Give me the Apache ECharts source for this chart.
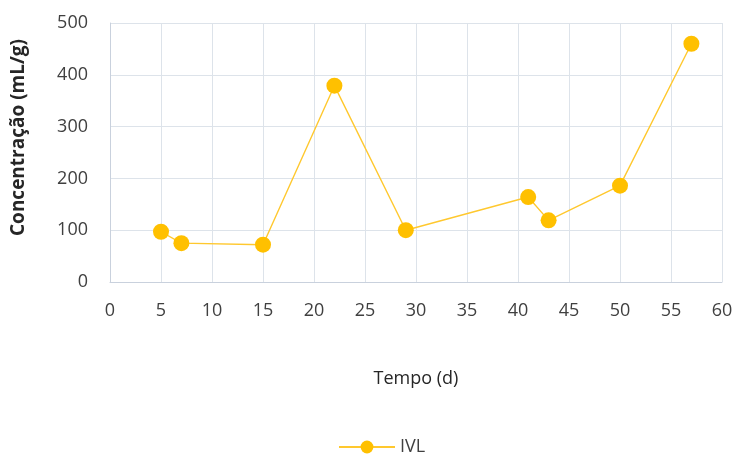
<!DOCTYPE html>
<html><head><meta charset="utf-8">
<script src="https://cdn.jsdelivr.net/npm/echarts@6/dist/echarts.min.js"></script>
<style>html,body{margin:0;padding:0;background:#fff}#c{width:737px;height:454px}</style>
</head><body><div id="c"></div>
<script>
const days = [5, 7, 15, 22, 29, 41, 43, 50, 57];
const ivl = [97, 75, 72, 379, 100, 164, 119, 186, 460];
const xTicks = [0, 5, 10, 15, 20, 25, 30, 35, 40, 45, 50, 55, 60];
const yTicks = [0, 100, 200, 300, 400, 500];
const seriesName = 'IVL';
const xName = 'Tempo (d)';
const yName = 'Concentração (mL/g)';

const font2 = '"Open Sans", sans-serif';
const chart = echarts.init(document.getElementById('c'));
chart.setOption({
  animation: false,
  grid: {left: 110, right: 15, top: 23, bottom: 172},
  xAxis: {
    type: 'value', min: xTicks[0], max: xTicks[xTicks.length-1], interval: 5,
    name: xName, nameLocation: 'middle', nameGap: 88,
    nameTextStyle: {fontFamily: font2, fontSize: 18, color: '#262626'},
    axisLine: {show: true, lineStyle: {color: '#c9d1dd', width: 1}},
    axisTick: {show: false},
    axisLabel: {fontFamily: font2, fontSize: 18, color: '#404040', margin: 20},
    splitLine: {show: true, lineStyle: {color: '#dde3ea', width: 1}}
  },
  yAxis: {
    type: 'value', min: yTicks[0], max: yTicks[yTicks.length-1], interval: 100,
    name: yName, nameLocation: 'middle', nameGap: 82, nameRotate: 90,
    nameTextStyle: {fontFamily: font2, fontSize: 19, fontWeight: 'bold', color: '#262626', padding: [0, 0, 0, 30]},
    axisLine: {show: true, lineStyle: {color: '#c9d1dd', width: 1}},
    axisTick: {show: false},
    axisLabel: {fontFamily: font2, fontSize: 18, color: '#404040', margin: 22},
    splitLine: {show: true, lineStyle: {color: '#dde3ea', width: 1}}
  },
  legend: {
    data: [seriesName], left: 333, top: 433,
    itemWidth: 56, itemHeight: 16, itemGap: 10,
    textStyle: {fontFamily: font2, fontSize: 18, color: '#404040'}
  },
  series: [{
    name: seriesName, type: 'line',
    data: days.map((d, i) => [d, ivl[i]]),
    symbol: 'circle', symbolSize: 16,
    itemStyle: {color: '#FFC000'},
    lineStyle: {color: '#FFC82E', width: 1.4}
  }]
});
</script></body></html>
